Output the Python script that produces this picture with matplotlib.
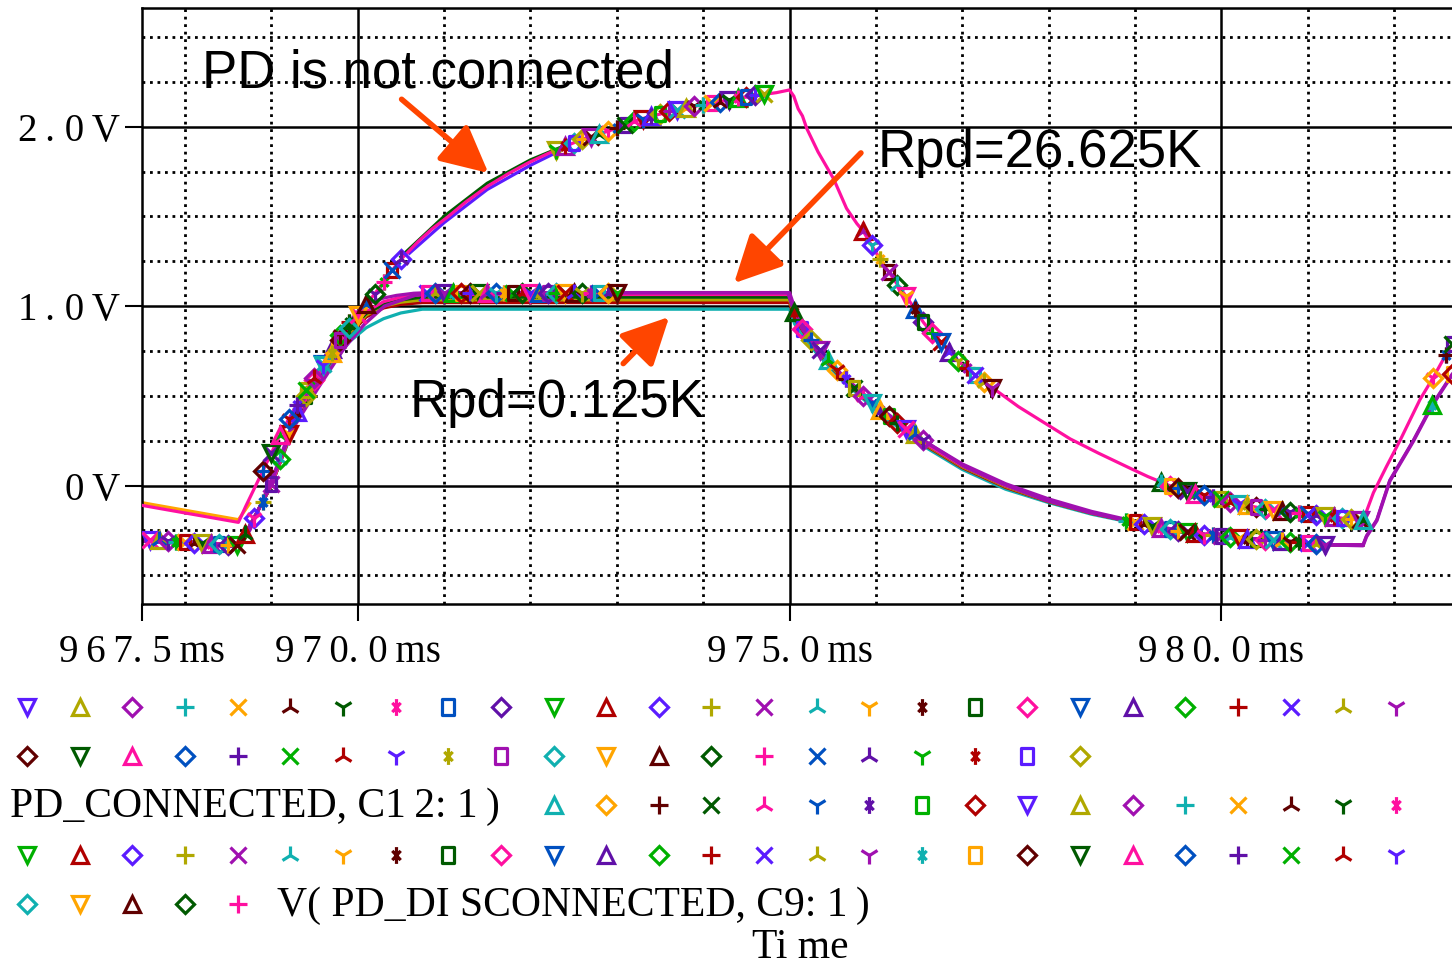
import numpy as np
import matplotlib
matplotlib.use("Agg")
import matplotlib.pyplot as plt
from matplotlib.path import Path

# --- DATA (time in ms, voltage in V) ---

# PD not connected (upper family)
UP_T = [967.50, 968.62, 968.70, 968.80, 968.90, 969.00, 969.10, 969.20, 969.30, 969.40,
        969.50, 969.60, 969.70, 969.80, 969.90, 970.00, 970.10, 970.20, 970.30, 970.40,
        970.50, 970.70, 970.86, 971.05, 971.25, 971.51, 971.75, 971.98, 972.20, 972.30,
        972.40, 972.50, 972.60, 972.70, 972.80, 972.90, 973.00, 973.10, 973.20, 973.30,
        973.40, 973.50, 973.60, 973.70, 973.80, 973.90, 974.00, 974.10, 974.20, 974.30,
        974.40, 974.50, 974.60, 974.70, 974.85, 975.00, 975.05, 975.10, 975.15, 975.20,
        975.33, 975.51, 975.66, 975.78, 975.85, 975.95, 976.05, 976.15, 976.25, 976.35,
        976.45, 976.55, 976.65, 976.75, 976.85, 976.95, 977.05, 977.15, 977.25, 977.35,
        977.65, 977.95, 978.25, 978.58, 978.95, 979.15, 979.30, 979.40, 979.50, 979.60,
        979.70, 979.80, 979.90, 980.00, 980.10, 980.20, 980.30, 980.40, 980.50, 980.60,
        980.70, 980.80, 980.90, 981.00, 981.10, 981.20, 981.30, 981.40, 981.50, 981.60,
        981.64, 981.68, 981.76, 981.91, 982.07, 982.30, 982.45, 982.60, 982.67]
UP_V = [-0.110, -0.205, -0.120, -0.020, 0.080, 0.180, 0.280, 0.370, 0.450, 0.530,
        0.600, 0.670, 0.740, 0.810, 0.880, 0.950, 1.010, 1.070, 1.135, 1.200,
        1.260, 1.360, 1.430, 1.500, 1.580, 1.670, 1.740, 1.800, 1.850, 1.870,
        1.890, 1.910, 1.930, 1.945, 1.960, 1.975, 1.995, 2.010, 2.030, 2.045,
        2.060, 2.070, 2.085, 2.095, 2.105, 2.115, 2.120, 2.130, 2.140, 2.150,
        2.160, 2.165, 2.175, 2.180, 2.190, 2.205, 2.170, 2.100, 2.060, 1.990,
        1.860, 1.710, 1.545, 1.460, 1.420, 1.340, 1.260, 1.190, 1.120, 1.055,
        0.985, 0.910, 0.850, 0.800, 0.745, 0.695, 0.655, 0.615, 0.580, 0.545,
        0.440, 0.350, 0.260, 0.180, 0.095, 0.050, 0.020, 0.000, -0.015, -0.030,
        -0.045, -0.055, -0.065, -0.075, -0.090, -0.100, -0.110, -0.120, -0.130, -0.137,
        -0.143, -0.148, -0.152, -0.156, -0.163, -0.170, -0.176, -0.182, -0.187, -0.190,
        -0.190, -0.144, -0.040, 0.105, 0.253, 0.480, 0.600, 0.730, 0.790]
UP_MARKED = [(968.85, 970.55), (972.25, 974.75), (975.80, 977.40), (979.25, 981.65), (982.40, 982.70)]

UP_ORANGE_T = [967.50, 968.62, 968.75]
UP_ORANGE_V = [-0.095, -0.190, -0.100]
UP_GREEN_T = [970.50, 971.00, 971.50, 972.00, 972.40]
UP_GREEN_V = [1.275, 1.500, 1.685, 1.815, 1.895]
UP_BLUE_T = [970.60, 971.00, 971.50, 972.00, 972.40]
UP_BLUE_V = [1.295, 1.465, 1.650, 1.785, 1.880]

# PD connected (lower family), trace carrying the markers
LOW_T = [967.50, 967.60, 967.70, 967.80, 967.90, 968.00, 968.10, 968.20, 968.30, 968.40,
         968.50, 968.60, 968.70, 968.80, 968.90, 969.00, 969.10, 969.20, 969.30, 969.40,
         969.50, 969.60, 969.70, 969.80, 969.90, 970.00, 970.15, 970.30, 970.45, 970.65,
         970.80, 970.90, 971.00, 971.10, 971.20, 971.30, 971.40, 971.50, 971.60, 971.70,
         971.80, 971.90, 972.00, 972.10, 972.20, 972.30, 972.40, 972.50, 972.60, 972.70,
         972.80, 972.90, 973.00, 974.00, 974.98, 975.05, 975.15, 975.25, 975.35, 975.45,
         975.55, 975.65, 975.75, 975.85, 975.95, 976.05, 976.15, 976.25, 976.35, 976.45,
         976.55, 976.67, 977.03, 977.44, 977.95, 978.47, 978.90, 979.00, 979.10, 979.20,
         979.30, 979.40, 979.50, 979.60, 979.70, 979.80, 979.90, 980.00, 980.10, 980.20,
         980.30, 980.40, 980.50, 980.60, 980.70, 980.80, 980.90, 981.00, 981.10, 981.20,
         981.64, 981.68, 981.80, 981.95, 982.22, 982.44, 982.67]
LOW_V = [-0.300, -0.303, -0.306, -0.309, -0.312, -0.315, -0.318, -0.321, -0.324, -0.327,
         -0.330, -0.330, -0.270, -0.180, -0.090, 0.010, 0.150, 0.290, 0.410, 0.500,
         0.590, 0.680, 0.760, 0.840, 0.910, 0.970, 1.020, 1.045, 1.060, 1.072,
         1.075, 1.075, 1.075, 1.075, 1.075, 1.075, 1.075, 1.075, 1.075, 1.075,
         1.075, 1.075, 1.075, 1.075, 1.075, 1.075, 1.075, 1.075, 1.075, 1.075,
         1.075, 1.075, 1.075, 1.075, 1.075, 0.970, 0.870, 0.810, 0.755, 0.700,
         0.645, 0.595, 0.545, 0.500, 0.460, 0.420, 0.385, 0.350, 0.315, 0.285,
         0.255, 0.216, 0.105, 0.015, -0.080, -0.150, -0.197, -0.205, -0.215, -0.225,
         -0.235, -0.244, -0.252, -0.260, -0.267, -0.273, -0.278, -0.283, -0.288, -0.292,
         -0.296, -0.300, -0.303, -0.306, -0.309, -0.312, -0.316, -0.321, -0.326, -0.330,
         -0.330, -0.280, -0.190, 0.030, 0.250, 0.450, 0.620]
LOW_MARKED = [(967.55, 969.95), (970.75, 973.05), (975.00, 976.60), (978.85, 981.25), (982.40, 982.70)]

# other PD-connected traces (lines only)
LOWX_T = [967.50, 968.60, 968.70, 969.00, 969.30, 969.60, 969.90, 970.10, 970.30, 970.50,
          970.75, 975.00, 975.06, 975.30, 975.60, 976.00, 976.50, 977.00, 977.50, 978.00,
          978.50, 979.00, 979.60, 980.20, 981.00, 981.20, 981.64]
CYAN_V = [-0.300, -0.330, -0.270, 0.000, 0.370, 0.610, 0.800, 0.880, 0.930, 0.962,
          0.983, 0.983, 0.900, 0.745, 0.590, 0.420, 0.235, 0.090, -0.020, -0.095,
          -0.160, -0.210, -0.266, -0.295, -0.320, -0.330, -0.330]
RED_V = [-0.300, -0.330, -0.270, 0.000, 0.380, 0.630, 0.840, 0.940, 0.990, 1.010,
         1.020, 1.020, 0.930, 0.760, 0.600, 0.430, 0.245, 0.100, -0.010, -0.090,
         -0.155, -0.207, -0.264, -0.293, -0.319, -0.330, -0.330]
OLIVE_V = [-0.300, -0.330, -0.270, 0.000, 0.380, 0.640, 0.850, 0.950, 1.000, 1.022,
           1.035, 1.035, 0.940, 0.765, 0.605, 0.435, 0.250, 0.105, -0.005, -0.088,
           -0.154, -0.206, -0.263, -0.293, -0.319, -0.330, -0.330]
GREEN_V = [-0.300, -0.330, -0.270, 0.000, 0.390, 0.650, 0.860, 0.960, 1.010, 1.035,
           1.050, 1.050, 0.950, 0.770, 0.610, 0.440, 0.255, 0.110, 0.000, -0.085,
           -0.152, -0.205, -0.262, -0.292, -0.318, -0.330, -0.330]
MAG_V = [-0.300, -0.330, -0.270, 0.000, 0.390, 0.660, 0.870, 0.970, 1.025, 1.050,
         1.065, 1.065, 0.960, 0.775, 0.615, 0.440, 0.255, 0.110, 0.000, -0.085,
         -0.152, -0.205, -0.262, -0.292, -0.318, -0.330, -0.330]

LAG_T = [967.50, 968.60, 968.75, 969.00, 969.24, 969.55, 969.85, 970.08, 970.31, 970.66,
         970.90, 975.00, 975.08, 975.30, 975.60, 976.00, 976.50, 977.00, 977.50, 978.00,
         978.50, 979.00, 979.60, 980.20, 981.00, 981.20, 981.64, 981.68, 981.80, 981.95,
         982.22, 982.44, 982.67]
LAG_V = [-0.310, -0.340, -0.250, 0.030, 0.310, 0.550, 0.770, 0.900, 1.000, 1.060,
         1.075, 1.075, 0.960, 0.780, 0.620, 0.450, 0.265, 0.120, 0.010, -0.075,
         -0.145, -0.200, -0.260, -0.290, -0.318, -0.330, -0.335, -0.285, -0.195, 0.025,
         0.245, 0.445, 0.615]

X_TICKS = [967.5, 970.0, 975.0, 980.0]
X_LABELS = ["9\u20096\u20097. 5\u2009ms", "9\u20097\u20090. 0\u2009ms",
            "9\u20097\u20095. 0\u2009ms", "9\u20098\u20090. 0\u2009ms"]
X_MINOR = [968, 969, 971, 972, 973, 974, 976, 977, 978, 979, 981, 982]
Y_TICKS = [0.0, 1.0, 2.0]
Y_LABELS = ["0\u2009V", "1\u2009. 0\u2009V", "2\u2009. 0\u2009V"]
Y_MINOR = [-0.5, -0.25, 0.25, 0.5, 0.75, 1.25, 1.5, 1.75, 2.25, 2.5]

# PSpice-like symbol / colour cycles
COLORS = ['#5b1cff', '#b0a800', '#a010b0', '#10b0b0', '#ffa500', '#600000',
          '#005a00', '#ff10a0', '#0050c0', '#6010a8', '#00b000', '#b00000']
ASTER = Path([(0, -1), (0, 1), (-0.5, -0.55), (0.5, 0.55), (-0.5, 0.55), (0.5, -0.55)],
             [Path.MOVETO, Path.LINETO, Path.MOVETO, Path.LINETO, Path.MOVETO, Path.LINETO])
RECT = Path([(-0.75, -1), (0.75, -1), (0.75, 1), (-0.75, 1), (-0.75, -1)],
            [Path.MOVETO, Path.LINETO, Path.LINETO, Path.LINETO, Path.CLOSEPOLY])
SYMBOLS = ['v', '^', 'D', '+', 'x', '2', '1', ASTER, RECT, 'D']
SIZES = [11, 11, 9, 12, 11, 13, 13, 11.5, 10.5, 9]

# legend rows: (y pixel, first slot, count, first symbol, first colour)
LEG_ROWS = [(707, 0, 27, 0, 0), (756, 0, 21, 9, 5), (805, 10, 17, 1, 3),
            (855, 0, 27, 0, 10), (904, 0, 5, 9, 3)]

SERIF = 'Liberation Serif'
SANS = 'Liberation Sans'
ARROW = '#ff4500'


def draw_marker(ax, x, y, k, c, scale=1.0, **kw):
    s = k % len(SYMBOLS)
    ax.plot([x], [y], ls='none', marker=SYMBOLS[s], ms=SIZES[s] * scale, mfc='none',
            mec=COLORS[c % len(COLORS)], mew=2.3, **kw)


fig = plt.figure(figsize=(14.52, 9.66), dpi=100)
ax = fig.add_axes([141.7 / 1452, 1 - 604 / 966, 1 - 141.7 / 1452, (604 - 8.3) / 966])
ax.set_xlim(967.5, 982.67)
ax.set_ylim(-0.66, 2.66)

# grid: solid majors, dotted minors
for x in X_TICKS[1:]:
    ax.axvline(x, color='black', lw=1.8, zorder=1)
for y in Y_TICKS:
    ax.axhline(y, color='black', lw=1.8, zorder=1)
for x in X_MINOR:
    ax.axvline(x, color='black', lw=2.0, ls=(0, (1, 1.7)), zorder=1)
for y in Y_MINOR:
    ax.axhline(y, color='black', lw=2.0, ls=(0, (1, 1.7)), zorder=1)

# PD connected traces
ax.plot(LOWX_T, CYAN_V, color='#10b0b0', lw=2.3, zorder=2)
ax.plot(LOWX_T, RED_V, color='#b00000', lw=2.3, zorder=2)
ax.plot(LOWX_T, OLIVE_V, color='#b0a800', lw=2.3, zorder=2)
ax.plot(LOWX_T, GREEN_V, color='#005a00', lw=2.3, zorder=2)
ax.plot(LOWX_T, MAG_V, color='#ff10a0', lw=2.3, zorder=2)
ax.plot(LAG_T, LAG_V, color='#a010b0', lw=2.5, zorder=2)
ax.plot(LOW_T, LOW_V, color='#a010b0', lw=2.3, zorder=2)

# PD not connected traces
ax.plot(UP_ORANGE_T, UP_ORANGE_V, color='#ffa500', lw=2.3, zorder=2)
ax.plot(UP_GREEN_T, UP_GREEN_V, color='#005a00', lw=2.3, zorder=2)
ax.plot(UP_BLUE_T, UP_BLUE_V, color='#5b1cff', lw=2.3, zorder=2)
ax.plot(UP_T, UP_V, color='#ff10a0', lw=2.3, zorder=3)

# trace markers: several overlapping sweep traces share each marked point
j = 0
for t, v in zip(LOW_T, LOW_V):
    if any(a <= t <= b for a, b in LOW_MARKED):
        draw_marker(ax, t, v, j, j, zorder=4)
        draw_marker(ax, t, v, j + 4, j + 7, zorder=4)
        j += 1
j = 3
for t, v in zip(UP_T, UP_V):
    if any(a <= t <= b for a, b in UP_MARKED):
        draw_marker(ax, t, v, j, j + 5, zorder=4)
        draw_marker(ax, t, v, j + 6, j + 2, zorder=4)
        j += 1

# axes frame and ticks
ax.spines['right'].set_visible(False)
for side in ['left', 'top', 'bottom']:
    ax.spines[side].set_linewidth(1.8)
ax.set_xticks(X_TICKS)
ax.set_xticklabels(X_LABELS, fontsize=28, family=SERIF)
ax.set_yticks(Y_TICKS)
ax.set_yticklabels(Y_LABELS, fontsize=28, family=SERIF)
ax.set_xticks([], minor=True)
ax.set_yticks([], minor=True)
ax.tick_params(axis='x', direction='out', length=12.5, width=1.5, pad=9)
ax.tick_params(axis='y', direction='out', length=12.5, width=1.5, pad=3)

# annotations
ax.text(968.196, 2.22, 'PD is not connected', family=SANS, fontsize=38,
        va='baseline', ha='left', zorder=5)
ax.text(976.02, 1.777, 'Rpd=26.625K', family=SANS, fontsize=38,
        va='baseline', ha='left', zorder=5)
ax.text(970.60, 0.381, 'Rpd=0.125K', family=SANS, fontsize=38,
        va='baseline', ha='left', zorder=5)
arrow = dict(arrowstyle='-|>,head_length=0.8,head_width=0.4', color=ARROW,
             lw=4, mutation_scale=36, shrinkA=0, shrinkB=0)
ax.annotate('', xy=(971.514, 1.742), xytext=(970.509, 2.153), arrowprops=arrow, zorder=5)
ax.annotate('', xy=(974.358, 1.128), xytext=(975.827, 1.854), arrowprops=arrow, zorder=5)
ax.annotate('', xy=(973.607, 0.940), xytext=(973.075, 0.680), arrowprops=arrow, zorder=5)

# legend area (pixel coordinates)
lg = fig.add_axes([0, 0, 1, 1])
lg.set_xlim(0, 1452)
lg.set_ylim(966, 0)
lg.axis('off')
lg.patch.set_visible(False)
for y, slot0, n, s0, c0 in LEG_ROWS:
    for i in range(n):
        draw_marker(lg, 27 + 52.65 * (slot0 + i), y, s0 + i, c0 + i, scale=1.05)
lg.text(10, 817, 'PD_CONNECTED, C1\u20092: 1\u2009)', family=SERIF, fontsize=30,
        va='baseline', ha='left')
lg.text(277, 916, 'V( PD_DI SCONNECTED, C9: 1\u2009)', family=SERIF, fontsize=30,
        va='baseline', ha='left')
lg.text(800, 958, 'Ti me', family=SERIF, fontsize=30, va='baseline', ha='center')

fig.savefig('out.png', dpi=100)
